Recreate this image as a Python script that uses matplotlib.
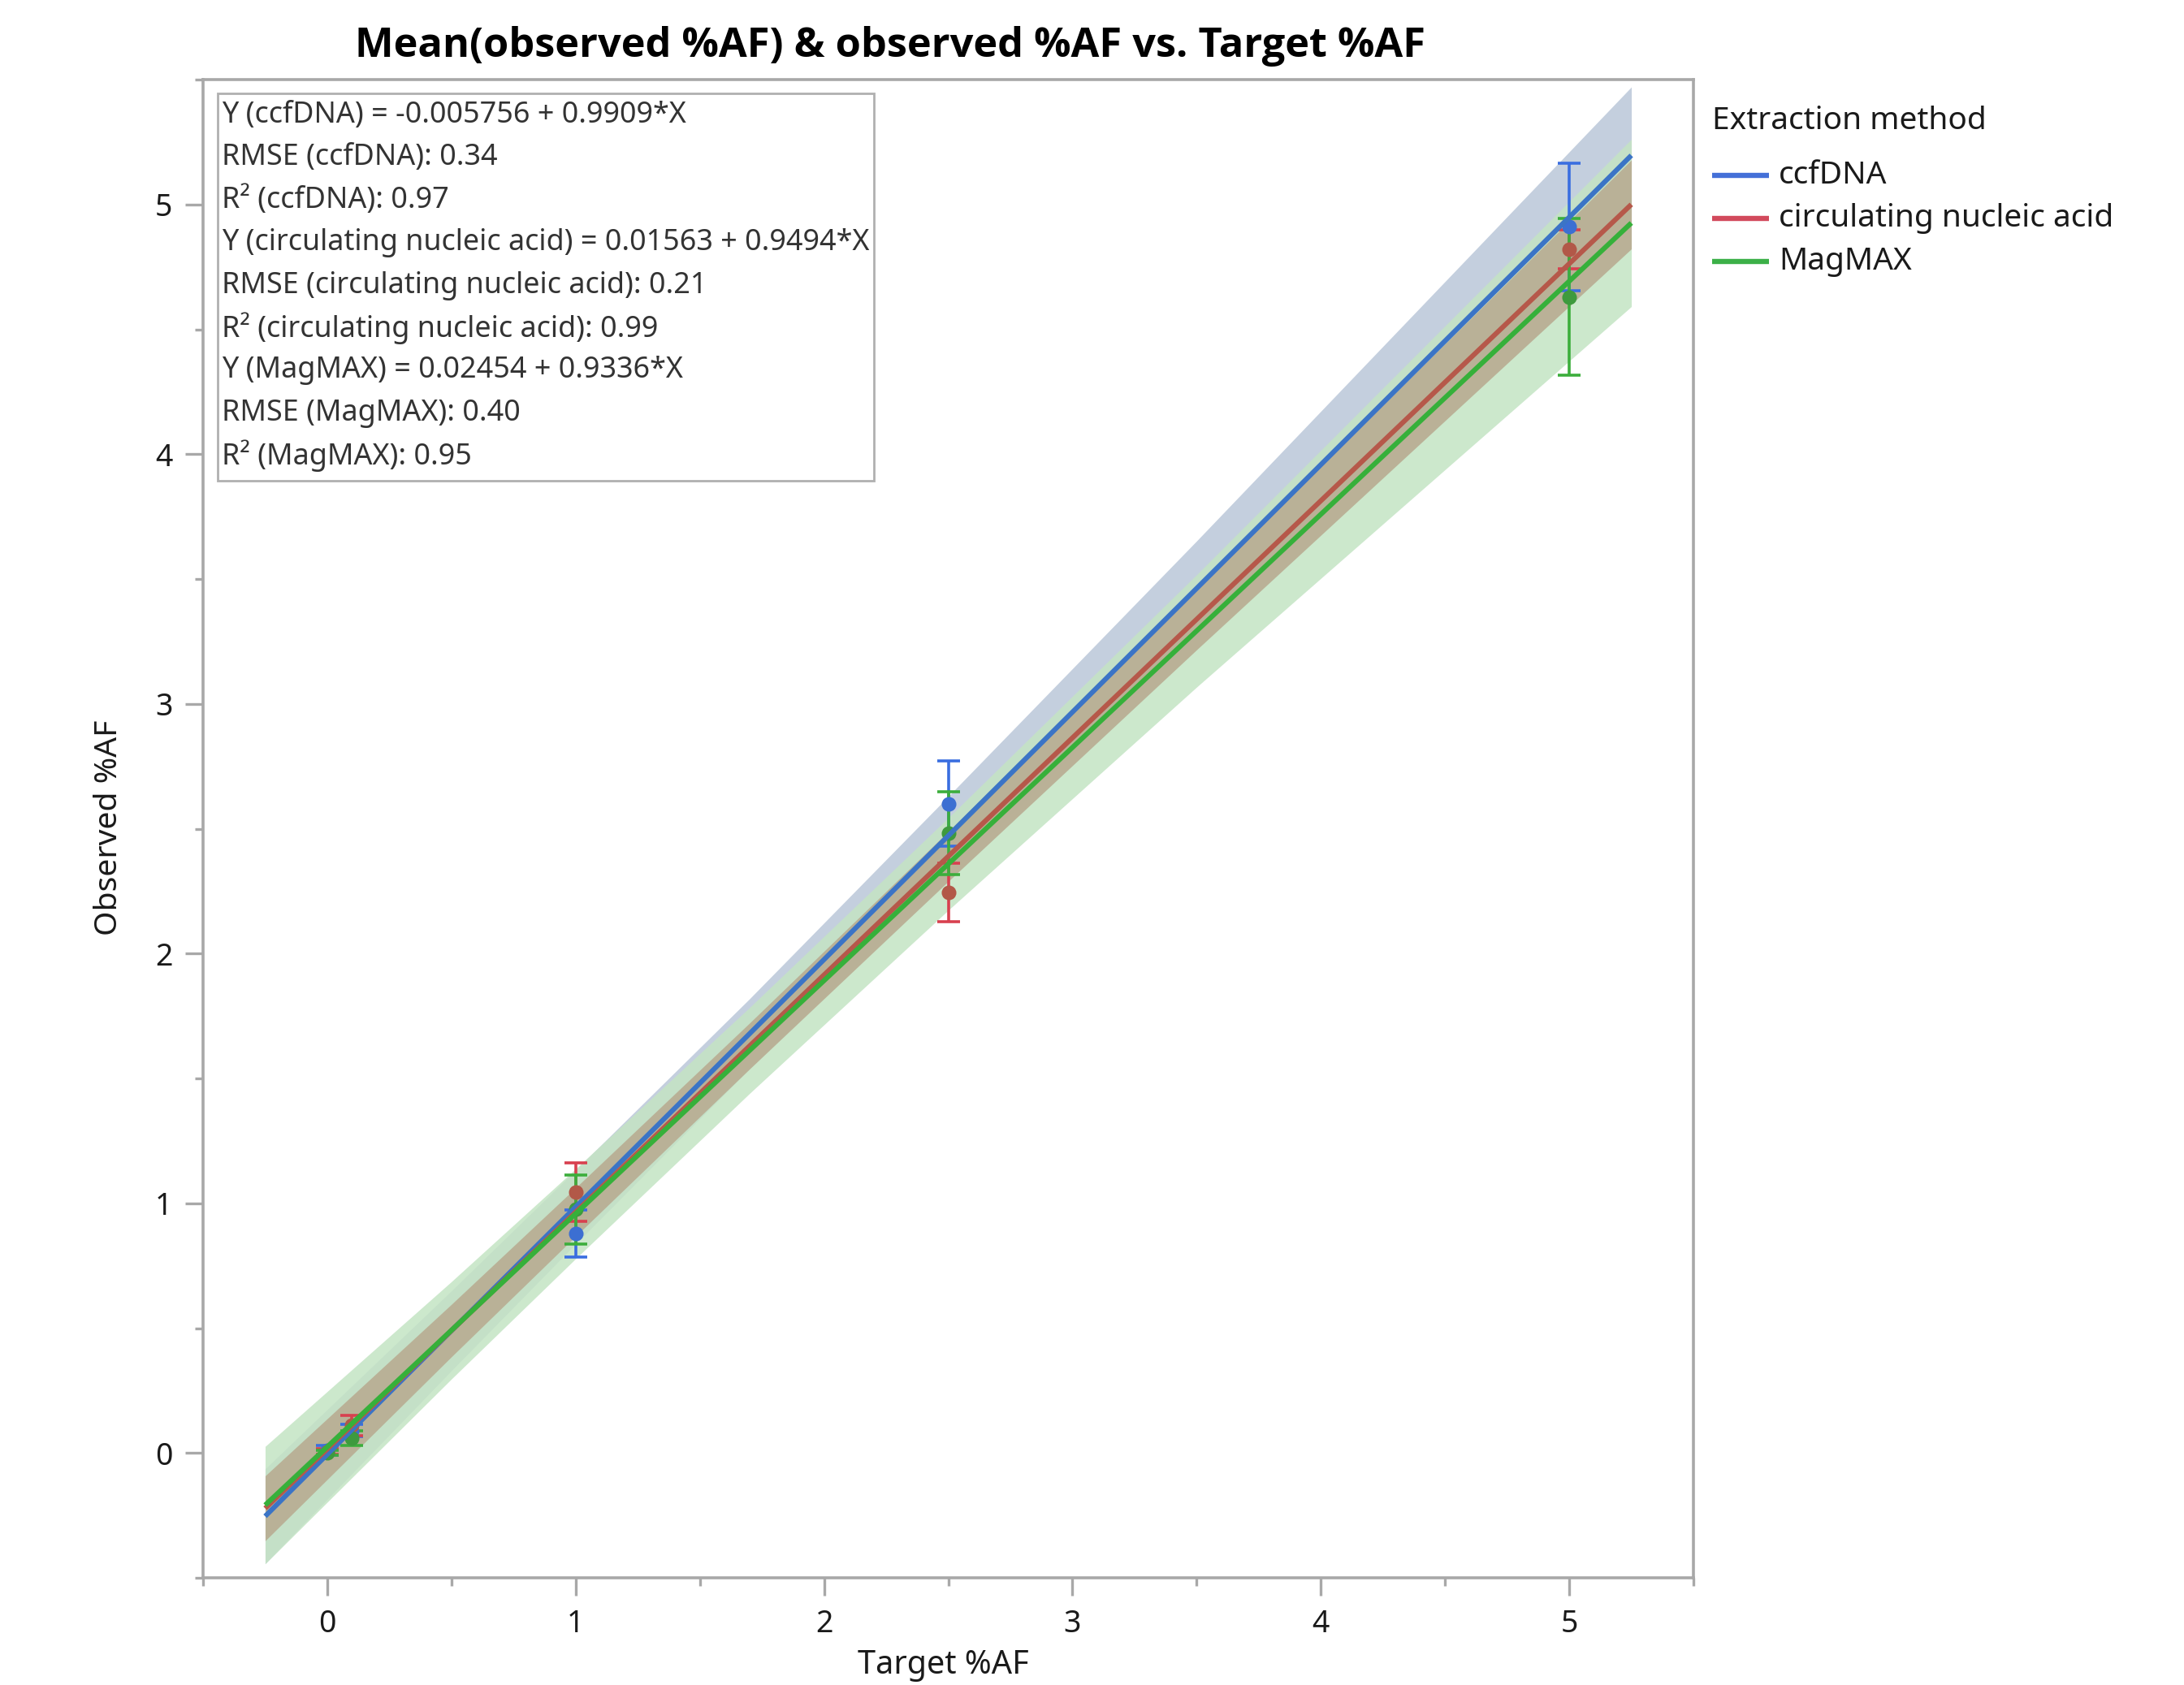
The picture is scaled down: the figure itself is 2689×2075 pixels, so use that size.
import matplotlib
matplotlib.use('Agg')
import matplotlib.pyplot as plt
import numpy as np
from matplotlib.lines import Line2D
from matplotlib.patches import Rectangle
from matplotlib.ticker import MultipleLocator

plt.rcParams['font.family'] = ['Noto Sans', 'DejaVu Sans']

# ---------------- data ----------------
methods = ['ccfDNA', 'circulating nucleic acid', 'MagMAX']
intercepts = [-0.005756, 0.01563, 0.02454]
slopes = [0.9909, 0.9494, 0.9336]
intercept_txt = ['-0.005756', '0.01563', '0.02454']
slope_txt = ['0.9909', '0.9494', '0.9336']
rmse_txt = ['0.34', '0.21', '0.40']
r2_txt = ['0.97', '0.99', '0.95']

target_x = [0, 0.1, 1, 2.5, 5]
ccf_mean = [0.01, 0.09, 0.879, 2.600, 4.910]
ccf_err = [0.02, 0.025, 0.095, 0.170, 0.256]
cna_mean = [0.005, 0.11, 1.045, 2.245, 4.820]
cna_err = [0.012, 0.04, 0.117, 0.116, 0.078]
mag_mean = [0.0, 0.06, 0.976, 2.482, 4.630]
mag_err = [0.01, 0.03, 0.138, 0.165, 0.315]

fit_x = [-0.25, 5.25]
band_x = [-0.25, 0.5, 1.0, 1.7, 2.5, 3.5, 5.25]
ccf_band = [0.19, 0.16, 0.148, 0.14, 0.158, 0.19, 0.274]
cna_band = [0.13, 0.105, 0.097, 0.092, 0.100, 0.122, 0.178]
mag_band = [0.235, 0.195, 0.180, 0.172, 0.185, 0.225, 0.335]

means = [ccf_mean, cna_mean, mag_mean]
errs = [ccf_err, cna_err, mag_err]
bands = [ccf_band, cna_band, mag_band]

# ---------------- styles ----------------
line_colors = ['#3b74c6', '#b6584a', '#36b03a']
legend_colors = ['#4470d8', '#d24a5c', '#3cb048']
marker_colors = ['#3c6fd2', '#b25848', '#3e9a3e']
err_colors = ['#3a6ee0', '#d8404f', '#3cae3c']
band_colors = ['#c4cfde', '#b9ad93', '#c4e4c4']
band_alpha = [1.0, 0.92, 0.85]
band_z = [1, 3, 2]

W, H = 2689, 2075
DPI = 200
fig = plt.figure(figsize=(W / DPI, H / DPI), dpi=DPI)
renderer = fig.canvas.get_renderer()

L, R, T, B = 250, 2085, 98, 1943
ax = fig.add_axes([L / W, 1 - B / H, (R - L) / W, (B - T) / H])


def fx(px):
    return px / W


def fy(py):
    return 1 - py / H


def fit_width(txt, target_px, vertical=False):
    bb = txt.get_window_extent(renderer=renderer)
    cur = bb.height if vertical else bb.width
    txt.set_fontsize(txt.get_fontsize() * target_px / cur)


# bands
for i in range(3):
    bx = np.array(band_x)
    yc = intercepts[i] + slopes[i] * bx
    hw = np.array(bands[i])
    ax.fill_between(bx, yc - hw, yc + hw, color=band_colors[i],
                    alpha=band_alpha[i], linewidth=0, zorder=band_z[i])

# error bars and means
for i in range(3):
    ax.errorbar(target_x, means[i], yerr=errs[i], fmt='none',
                ecolor=err_colors[i], elinewidth=1.3, capsize=5,
                capthick=1.3, zorder=4)
    ax.plot(target_x, means[i], 'o', color=marker_colors[i], ms=6.5,
            mec='none', zorder=4.5)

# fit lines
for i in range(3):
    xx = np.array(fit_x)
    ax.plot(xx, intercepts[i] + slopes[i] * xx, color=line_colors[i],
            lw=2.2, solid_capstyle='butt', zorder=5 + i)

ax.set_xlim(-0.5, 5.5)
ax.set_ylim(-0.5, 5.5)
ax.set_xticks([0, 1, 2, 3, 4, 5])
ax.set_yticks([0, 1, 2, 3, 4, 5])
ax.xaxis.set_minor_locator(MultipleLocator(0.5))
ax.yaxis.set_minor_locator(MultipleLocator(0.5))
ax.tick_params(which='major', length=8, width=1.2, color='#a8a8a8',
               labelsize=13.5, labelcolor='#1a1a1a', pad=5.5)
ax.tick_params(which='minor', length=3.6, width=1.2, color='#a8a8a8')
for s in ax.spines.values():
    s.set_color('#a8a8a8')
    s.set_linewidth(1.3)

# title and axis labels
title = fig.text(fx(1096), fy(57), 'Mean(observed %AF) & observed %AF vs. Target %AF',
                 ha='center', va='center', fontsize=16, fontweight='bold',
                 family=['Open Sans', 'DejaVu Sans'], color='black')
fit_width(title, 1320)
xl = fig.text(fx(1161), fy(2051), 'Target %AF', ha='center', va='center',
              fontsize=13, color='#1a1a1a')
fit_width(xl, 211)
yl = fig.text(fx(134), fy(1019), 'Observed %AF', ha='center', va='center',
              rotation=90, fontsize=13, color='#1a1a1a')
fit_width(yl, 266, vertical=True)

# annotation box
ax.add_patch(Rectangle((fx(268), fy(592)), fx(1076 - 268), (592 - 115) / H,
                       transform=fig.transFigure, fill=False,
                       edgecolor='#b0b0b0', lw=1.0, zorder=10, clip_on=False))
ann_lines = []
for i in range(3):
    ann_lines.append('Y (%s) = %s + %s*X' % (methods[i], intercept_txt[i], slope_txt[i]))
    ann_lines.append('RMSE (%s): %s' % (methods[i], rmse_txt[i]))
    ann_lines.append('R\u00b2 (%s): %s' % (methods[i], r2_txt[i]))
ann_texts = []
for k, s in enumerate(ann_lines):
    ann_texts.append(fig.text(fx(273), fy(142 + k * 52.4), s, ha='left', va='center',
                              fontsize=10.5, color='#333333', zorder=11))
# size from the widest line (circulating nucleic acid equation)
bb = ann_texts[3].get_window_extent(renderer=renderer)
ann_fs = 10.5 * 800 / bb.width
for t in ann_texts:
    t.set_fontsize(ann_fs)

# legend
fig.text(fx(2108), fy(149), 'Extraction method', ha='left', va='center',
         fontsize=14, color='#1a1a1a')
for i in range(3):
    yy = 216 + i * 53
    fig.add_artist(Line2D([fx(2108), fx(2178)], [fy(yy), fy(yy)],
                          transform=fig.transFigure, color=legend_colors[i],
                          lw=2.3, solid_capstyle='butt'))
    fig.text(fx(2190), fy(yy), methods[i], ha='left', va='center',
             fontsize=14, color='#1a1a1a')

fig.savefig('out.png', dpi=DPI)
